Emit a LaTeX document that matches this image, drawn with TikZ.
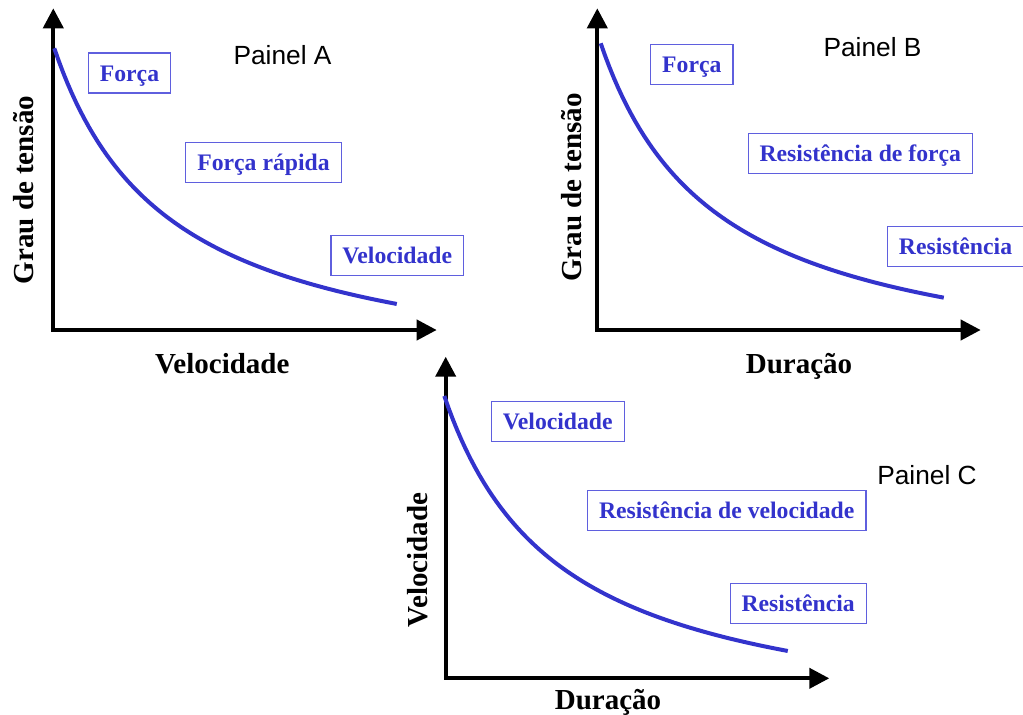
\documentclass[tikz,border=0pt]{standalone}
\usepackage{fontspec}
\setmainfont{Liberation Serif}
\newfontfamily\arialfont{Liberation Sans}
\usepackage{xcolor}
\usetikzlibrary{arrows.meta}
\definecolor{curveblue}{RGB}{51,51,204}
\definecolor{boxblue}{RGB}{95,95,222}

\begin{document}
\begin{tikzpicture}[x=1pt, y=-1pt]
\tikzstyle{eixo}=[line width=4pt,
                  {Triangle[length=20pt,width=20pt]}-{Triangle[length=20pt,width=20pt]}]
\tikzstyle{curva}=[curveblue, line width=4pt]
\tikzstyle{rotulo}=[draw=boxblue, line width=1.2pt, text=curveblue,
                    font=\bfseries\fontsize{23.7}{28}\selectfont,
                    text height=19.5pt, text depth=3.5pt, inner xsep=11.5pt, inner ysep=8.5pt]
\tikzstyle{eixolbl}=[font=\bfseries\fontsize{29}{34}\selectfont, anchor=base, inner sep=0pt]
\tikzstyle{painel}=[font=\arialfont\fontsize{26.3}{31}\selectfont, anchor=base, inner sep=0pt]

\useasboundingbox (0,0) rectangle (1023,715);

% Painel A
\coordinate (oA) at (53.3,330);
\coordinate (yA) at (53.3,8.3);
\coordinate (xA) at (436.7,330);
\draw[eixo] (yA) -- (oA) -- (xA);
\draw[curva] plot[domain=0:1, samples=80, variable=\t]
  ({54.3+342.7*\t}, {304-255.7*(1/(\t+0.338)-0.7474)/2.2112});
\node[rotulo] (forcaA) at (129.5,73) {Força};
\node[rotulo] (rapidaA) at (263.5,162.5) {Força rápida};
\node[rotulo] (velA) at (397.3,255.7) {Velocidade};
\node[painel] (painelA) at (282.5,64) {Painel A};
\node[eixolbl] (xlabA) at (222.3,373) {Velocidade};
\node[eixolbl, rotate=90] (ylabA) at (33,190) {Grau de tensão};

% Painel B
\coordinate (oB) at (597.3,330);
\coordinate (yB) at (597.3,8.3);
\coordinate (xB) at (980.7,330);
\draw[eixo] (yB) -- (oB) -- (xB);
\draw[curva] plot[domain=0:1, samples=80, variable=\t]
  ({600.7+343.3*\t}, {297.7-254.4*(1/(\t+0.338)-0.7474)/2.2112});
\node[rotulo] (forcaB) at (691.8,64.2) {Força};
\node[rotulo] (resforcaB) at (860.3,153.5) {Resistência de força};
\node[rotulo] (resB) at (955.5,246.8) {Resistência};
\node[painel] (painelB) at (872.5,56) {Painel B};
\node[eixolbl] (xlabB) at (799,373) {Duração};
\node[eixolbl, rotate=90] (ylabB) at (581.7,187.5) {Grau de tensão};

% Painel C
\coordinate (oC) at (445.7,678.3);
\coordinate (yC) at (445.7,356.7);
\coordinate (xC) at (829.3,678.3);
\draw[eixo] (yC) -- (oC) -- (xC);
\draw[curva] plot[domain=0:1, samples=80, variable=\t]
  ({444.3+343.7*\t}, {651-255*(1/(\t+0.338)-0.7474)/2.2112});
\node[rotulo] (velC) at (557.8,421.3) {Velocidade};
\node[rotulo] (resvelC) at (726.7,510.3) {Resistência de velocidade};
\node[rotulo] (resC) at (798.2,603.7) {Resistência};
\node[painel] (painelC) at (927,484.3) {Painel C};
\node[eixolbl] (xlabC) at (608,709.3) {Duração};
\node[eixolbl, rotate=90] (ylabC) at (427,560) {Velocidade};

\end{tikzpicture}
\end{document}
